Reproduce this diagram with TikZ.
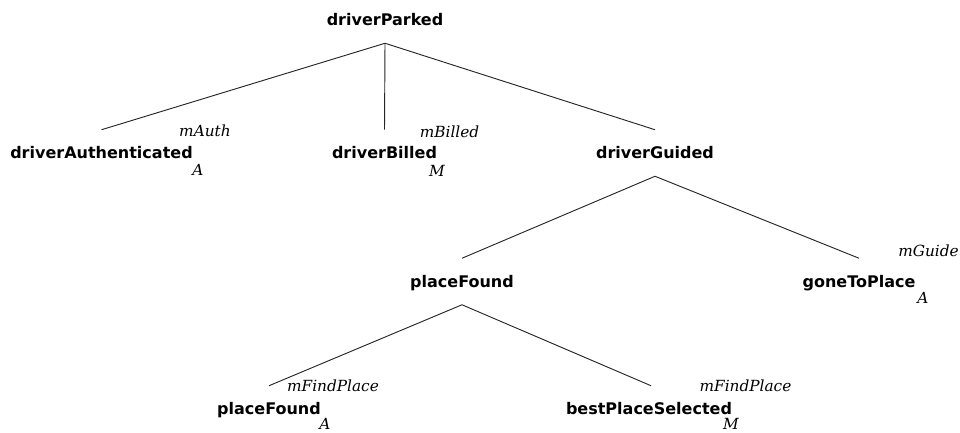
\documentclass[tikz,border=0pt]{standalone}
\usepackage{fontspec}
\newfontfamily\treefont{DejaVu Sans}
\newfontfamily\annfont{DejaVu Serif}
\begin{document}
\begin{tikzpicture}[x=0.75pt,y=-0.75pt,
  treenode/.style={font=\treefont\bfseries\fontsize{12}{14}\selectfont,
    inner sep=0pt, text height=9.75pt, text depth=1.5pt, minimum height=34.5pt},
  ann/.style={font=\annfont\itshape\fontsize{11.5}{13}\selectfont,
    inner sep=0pt, anchor=base},
  branch/.style={line width=0.7pt, black!85}]
\useasboundingbox (0,0) rectangle (960,432);

% tree nodes
\node[treenode] (dP)  at (385,20)    {driverParked};
\node[treenode] (dA)  at (101.5,153) {driverAuthenticated};
\node[treenode] (dB)  at (384.5,153) {driverBilled};
\node[treenode] (dG)  at (655,153)   {driverGuided};
\node[treenode] (pF1) at (462,281.5) {placeFound};
\node[treenode] (gP)  at (859,281.5) {goneToPlace};
\node[treenode] (pF2) at (269,409)   {placeFound};
\node[treenode] (bPS) at (649,409)   {bestPlaceSelected};

% branches
\draw[branch] (dP.south) -- (dA.north);
\draw[branch] (dP.south) -- (dB.north);
\draw[branch] (dP.south) -- (dG.north);
\draw[branch] (dG.south) -- (pF1.north);
\draw[branch] (dG.south) -- (gP.north);
\draw[branch] (pF1.south) -- (pF2.north);
\draw[branch] (pF1.south) -- ([xshift=1.5pt]bPS.north);

% annotations
\node[ann] (lAuth)   at (205,136)   {mAuth};
\node[ann] (kAuth)   at (198,175)   {A};
\node[ann] (lBilled) at (449.5,137) {mBilled};
\node[ann] (kBilled) at (437,176)   {M};
\node[ann] (lGuide)  at (928.5,256) {mGuide};
\node[ann] (kGone)   at (923,303)   {A};
\node[ann] (lFind1)  at (333,391.5) {mFindPlace};
\node[ann] (kFound)  at (325,429)   {A};
\node[ann] (lFind2)  at (745.5,391.5) {mFindPlace};
\node[ann] (kBest)   at (731,429)   {M};
\end{tikzpicture}
\end{document}
